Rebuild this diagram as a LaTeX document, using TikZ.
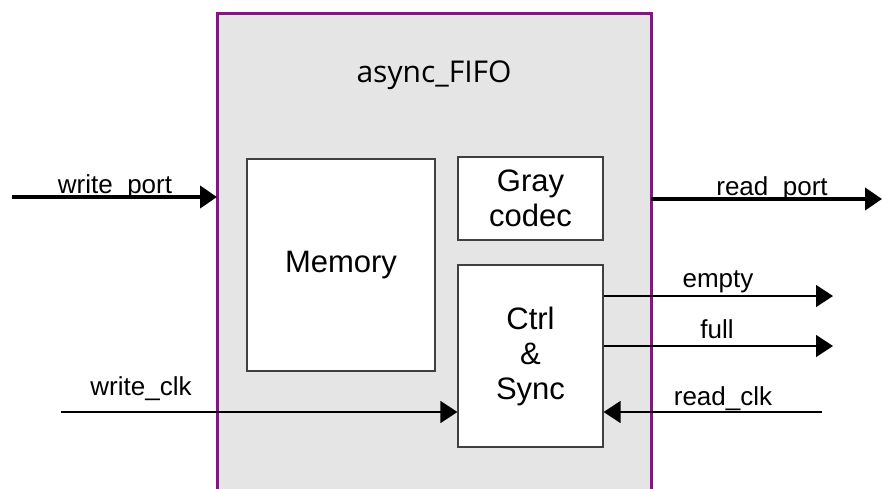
\documentclass[tikz,border=0pt]{standalone}
\usepackage{fontspec}
\setmainfont{Liberation Sans}
\newfontfamily\titlefont{Open Sans}
\usetikzlibrary{arrows.meta}
\definecolor{fifopurple}{RGB}{140,16,140}
\definecolor{fifogray}{RGB}{229,229,229}
\definecolor{boxedge}{RGB}{64,64,64}
\tikzset{
  block/.style={draw=boxedge, line width=1.2pt, fill=white, inner sep=0pt, align=center,
    font=\fontsize{31}{35}\selectfont},
  lbl/.style={anchor=base, inner sep=0pt, font=\fontsize{26}{30}\selectfont},
  tip/.style={-{Triangle[length=17pt,width=22pt]}},
  bus/.style={tip, line width=4pt},
  sig/.style={tip, line width=1.3pt},
}
\begin{document}
\begin{tikzpicture}[x=1pt,y=-1pt]
\clip (0,0) rectangle (882,488);
\fill[white] (0,0) rectangle (882,488);
% outer block
\node[fill=fifogray, minimum width=434pt, minimum height=500pt, inner sep=0pt, anchor=north west] (fifo) at (217,13) {};
\draw[fifopurple, line width=3pt] (fifo.south west) -- (fifo.north west) -- (fifo.north east) -- (fifo.south east);
\node[anchor=base, inner sep=0pt, font=\titlefont\fontsize{30}{34}\selectfont] (title) at (434,82) {async\_FIFO};
% inner blocks
\node[block, minimum width=188pt, minimum height=212pt] (mem) at (341,265) {Memory};
\node[block, minimum width=145pt, minimum height=83pt] (gray) at (530.5,198.5) {Gray\\codec};
\node[block, minimum width=145pt, minimum height=182pt] (ctrl) at (530.5,356) {Ctrl\\\&\\Sync};
% free ends
\coordinate (wpstart) at (12,197);
\coordinate (wpend) at (217,197);
\coordinate (rpstart) at (651,199);
\coordinate (rpend) at (882,199);
\coordinate (emptyend) at (833,296);
\coordinate (fullend) at (833,346);
\coordinate (wclk) at (61,412);
\coordinate (rclk) at (822,412);
% connectors
\draw[bus] (wpstart) -- (wpend);
\draw[bus] (rpstart) -- (rpend);
\draw[sig] (ctrl.east |- emptyend) -- (emptyend);
\draw[sig] (ctrl.east |- fullend) -- (fullend);
\draw[sig] (wclk) -- (ctrl.west |- wclk);
\draw[sig] (rclk) -- (ctrl.east |- rclk);
% labels
\node[lbl] (lwp) at (115,193) {write\_port};
\node[lbl] (lrp) at (772,195) {read\_port};
\node[lbl] (lempty) at (718,287) {empty};
\node[lbl] (lfull) at (717,338) {full};
\node[lbl] (lwclk) at (141,395) {write\_clk};
\node[lbl] (lrclk) at (723,405) {read\_clk};
\end{tikzpicture}
\end{document}
